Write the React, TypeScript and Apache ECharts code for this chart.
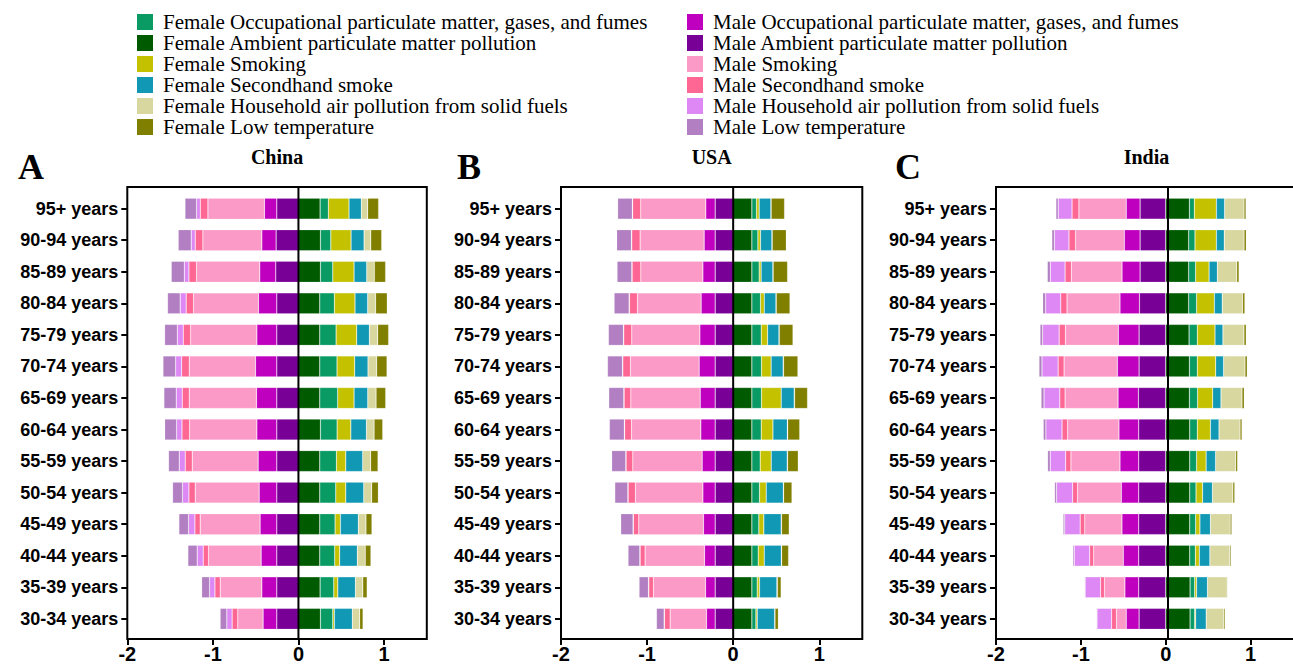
import React, { useEffect, useRef } from 'react';
import * as echarts from 'echarts';

// ---------- categories ----------
const ageGroups = [
  '95+ years', '90-94 years', '85-89 years', '80-84 years', '75-79 years', '70-74 years', '65-69 years',
  '60-64 years', '55-59 years', '50-54 years', '45-49 years', '40-44 years', '35-39 years', '30-34 years',
];
const riskNames = [
  'Occupational particulate matter, gases, and fumes',
  'Ambient particulate matter pollution',
  'Smoking',
  'Secondhand smoke',
  'Household air pollution from solid fuels',
  'Low temperature',
];
// stacking order from the zero line outwards (indices into riskNames)
const stackOrder = [1, 0, 2, 3, 4, 5];
const femaleColors = ['#0a9a64', '#005a00', '#c4c200', '#1198b5', '#d8d79f', '#817f00'];
const maleColors = ['#c000bf', '#790096', '#fb99c7', '#fe6694', '#dd88f4', '#b17fc2'];
const countries = ['China', 'USA', 'India'];
const panelLetters = ['A', 'B', 'C'];

// ---------- China (values per age group, top to bottom) ----------
const cnFemaleOcc = [0.097, 0.121, 0.144, 0.171, 0.191, 0.202, 0.210, 0.195, 0.195, 0.187, 0.179, 0.175, 0.160, 0.144];
const cnFemaleAmb = [0.253, 0.257, 0.257, 0.249, 0.249, 0.249, 0.249, 0.257, 0.249, 0.249, 0.249, 0.249, 0.253, 0.257];
const cnFemaleSmk = [0.241, 0.237, 0.249, 0.241, 0.241, 0.206, 0.191, 0.160, 0.109, 0.117, 0.062, 0.058, 0.047, 0.019];
const cnFemaleShs = [0.144, 0.152, 0.148, 0.148, 0.148, 0.156, 0.160, 0.183, 0.198, 0.210, 0.210, 0.206, 0.206, 0.210];
const cnFemaleHap = [0.074, 0.078, 0.089, 0.093, 0.097, 0.101, 0.097, 0.089, 0.093, 0.093, 0.089, 0.093, 0.086, 0.086];
const cnFemaleLt = [0.128, 0.128, 0.132, 0.136, 0.128, 0.121, 0.113, 0.101, 0.086, 0.078, 0.070, 0.066, 0.051, 0.039];
const cnMaleOcc = [0.144, 0.167, 0.187, 0.214, 0.233, 0.249, 0.237, 0.233, 0.218, 0.206, 0.195, 0.183, 0.175, 0.160];
const cnMaleAmb = [0.253, 0.261, 0.265, 0.253, 0.253, 0.253, 0.253, 0.253, 0.253, 0.253, 0.253, 0.253, 0.253, 0.253];
const cnMaleSmk = [0.661, 0.689, 0.739, 0.759, 0.774, 0.774, 0.786, 0.786, 0.770, 0.747, 0.700, 0.615, 0.486, 0.296];
const cnMaleShs = [0.089, 0.089, 0.089, 0.086, 0.086, 0.089, 0.082, 0.089, 0.082, 0.074, 0.062, 0.062, 0.062, 0.066];
const cnMaleHap = [0.043, 0.047, 0.054, 0.070, 0.070, 0.070, 0.070, 0.062, 0.070, 0.074, 0.074, 0.070, 0.062, 0.062];
const cnMaleLt = [0.136, 0.152, 0.152, 0.148, 0.148, 0.148, 0.144, 0.140, 0.125, 0.117, 0.113, 0.109, 0.093, 0.078];

// ---------- USA ----------
const usFemaleOcc = [0.054, 0.070, 0.085, 0.101, 0.109, 0.112, 0.112, 0.109, 0.097, 0.089, 0.081, 0.074, 0.062, 0.047];
const usFemaleAmb = [0.217, 0.217, 0.217, 0.217, 0.217, 0.217, 0.217, 0.217, 0.217, 0.217, 0.217, 0.217, 0.217, 0.217];
const usFemaleSmk = [0.031, 0.031, 0.023, 0.043, 0.074, 0.112, 0.229, 0.136, 0.128, 0.078, 0.058, 0.070, 0.027, 0.016];
const usFemaleShs = [0.136, 0.132, 0.136, 0.136, 0.132, 0.140, 0.151, 0.167, 0.186, 0.198, 0.202, 0.198, 0.202, 0.202];
const usFemaleHap = [0.004, 0.004, 0.004, 0.004, 0.004, 0.004, 0.004, 0.004, 0.004, 0.004, 0.004, 0.004, 0.006, 0.004];
const usFemaleLt = [0.155, 0.163, 0.167, 0.159, 0.159, 0.167, 0.151, 0.140, 0.124, 0.097, 0.089, 0.081, 0.043, 0.039];
const usMaleOcc = [0.109, 0.128, 0.143, 0.163, 0.178, 0.186, 0.174, 0.167, 0.151, 0.143, 0.136, 0.124, 0.112, 0.101];
const usMaleAmb = [0.209, 0.209, 0.209, 0.209, 0.209, 0.209, 0.209, 0.209, 0.209, 0.209, 0.209, 0.209, 0.209, 0.209];
const usMaleSmk = [0.756, 0.744, 0.721, 0.740, 0.791, 0.798, 0.806, 0.806, 0.806, 0.783, 0.752, 0.690, 0.605, 0.422];
const usMaleShs = [0.093, 0.097, 0.101, 0.093, 0.093, 0.089, 0.078, 0.078, 0.078, 0.085, 0.062, 0.058, 0.054, 0.066];
const usMaleHap = [0.004, 0.004, 0.004, 0.004, 0.004, 0.004, 0.004, 0.004, 0.004, 0.004, 0.004, 0.004, 0.004, 0.004];
const usMaleLt = [0.171, 0.171, 0.171, 0.174, 0.174, 0.174, 0.174, 0.174, 0.163, 0.151, 0.143, 0.136, 0.109, 0.089];

// ---------- India ----------
const inFemaleOcc = [0.058, 0.074, 0.081, 0.093, 0.097, 0.093, 0.097, 0.089, 0.081, 0.074, 0.070, 0.066, 0.054, 0.054];
const inFemaleAmb = [0.279, 0.271, 0.271, 0.271, 0.275, 0.279, 0.279, 0.283, 0.283, 0.283, 0.283, 0.283, 0.287, 0.287];
const inFemaleSmk = [0.260, 0.252, 0.159, 0.209, 0.209, 0.217, 0.178, 0.155, 0.112, 0.078, 0.050, 0.047, 0.023, 0.012];
const inFemaleShs = [0.097, 0.093, 0.097, 0.093, 0.093, 0.093, 0.097, 0.101, 0.112, 0.116, 0.124, 0.124, 0.128, 0.124];
const inFemaleHap = [0.229, 0.233, 0.229, 0.240, 0.248, 0.252, 0.248, 0.248, 0.236, 0.240, 0.233, 0.233, 0.233, 0.209];
const inFemaleLt = [0.023, 0.027, 0.027, 0.027, 0.027, 0.027, 0.027, 0.023, 0.023, 0.023, 0.019, 0.016, 0.008, 0.016];
const inMaleOcc = [0.163, 0.186, 0.213, 0.229, 0.244, 0.256, 0.240, 0.233, 0.221, 0.205, 0.198, 0.182, 0.163, 0.151];
const inMaleAmb = [0.302, 0.302, 0.302, 0.310, 0.314, 0.314, 0.322, 0.318, 0.318, 0.318, 0.318, 0.318, 0.318, 0.314];
const inMaleSmk = [0.558, 0.574, 0.597, 0.624, 0.624, 0.628, 0.624, 0.605, 0.578, 0.516, 0.438, 0.349, 0.240, 0.116];
const inMaleShs = [0.081, 0.078, 0.074, 0.074, 0.074, 0.070, 0.062, 0.066, 0.062, 0.058, 0.054, 0.047, 0.047, 0.058];
const inMaleHap = [0.163, 0.171, 0.174, 0.178, 0.194, 0.190, 0.186, 0.190, 0.182, 0.190, 0.182, 0.182, 0.182, 0.171];
const inMaleLt = [0.027, 0.031, 0.035, 0.035, 0.031, 0.035, 0.035, 0.031, 0.031, 0.023, 0.019, 0.016, 0.008, 0.008];

const femaleData = [
  [cnFemaleOcc, cnFemaleAmb, cnFemaleSmk, cnFemaleShs, cnFemaleHap, cnFemaleLt],
  [usFemaleOcc, usFemaleAmb, usFemaleSmk, usFemaleShs, usFemaleHap, usFemaleLt],
  [inFemaleOcc, inFemaleAmb, inFemaleSmk, inFemaleShs, inFemaleHap, inFemaleLt],
];
const maleData = [
  [cnMaleOcc, cnMaleAmb, cnMaleSmk, cnMaleShs, cnMaleHap, cnMaleLt],
  [usMaleOcc, usMaleAmb, usMaleSmk, usMaleShs, usMaleHap, usMaleLt],
  [inMaleOcc, inMaleAmb, inMaleSmk, inMaleShs, inMaleHap, inMaleLt],
];

// ---------- layout ----------
const X_MIN = -2;
const X_MAX = 1.5;
const gridLefts = [127.3, 561, 996];
const gridWidths = [299.5, 301.3, 301];
const frameTop = 187;
const frameBottom = 639;
const gridTop = 192.9;
const gridHeight = 441.7;
const letterX = [18, 457, 895];

export default function App() {
  const ref = useRef<HTMLDivElement>(null);

  useEffect(() => {
    if (!ref.current) return;
    const chart = echarts.init(ref.current, undefined, { renderer: 'svg' });

    const grids: any[] = [];
    const xAxes: any[] = [];
    const yAxes: any[] = [];
    const series: any[] = [];
    const graphics: any[] = [];

    const barStyle = (color: string) => ({
      color,
      borderColor: 'rgba(255,255,255,0.3)',
      borderWidth: 0.6,
    });

    countries.forEach((country, i) => {
      grids.push({ left: gridLefts[i], top: gridTop, width: gridWidths[i], height: gridHeight, containLabel: false });
      xAxes.push({
        type: 'value',
        gridIndex: i,
        min: X_MIN,
        max: X_MAX,
        interval: 1,
        offset: frameBottom - (gridTop + gridHeight),
        axisLine: { show: false },
        axisTick: { show: true, length: 6, lineStyle: { color: '#000', width: 2 } },
        axisLabel: {
          fontFamily: 'Liberation Sans',
          fontWeight: 'bold',
          fontSize: 20,
          color: '#000',
          margin: 5,
          showMaxLabel: false,
        },
        splitLine: { show: false },
      });
      yAxes.push({
        type: 'category',
        gridIndex: i,
        data: ageGroups,
        inverse: true,
        axisLine: { show: false, onZero: false },
        axisTick: { show: true, alignWithLabel: true, length: 6, lineStyle: { color: '#000', width: 2 } },
        axisLabel: {
          fontFamily: 'Liberation Sans',
          fontWeight: 'bold',
          fontSize: 18,
          color: '#000',
          margin: 9,
        },
        splitLine: { show: false },
      });

      // one stack per panel: positive (female) and negative (male) values stack separately
      stackOrder.forEach((k) => {
        series.push({
          type: 'bar',
          name: 'Female ' + riskNames[k],
          xAxisIndex: i,
          yAxisIndex: i,
          stack: 'panel' + i,
          barWidth: 21,
          data: femaleData[i][k],
          itemStyle: barStyle(femaleColors[k]),
          emphasis: { disabled: true },
        });
      });
      stackOrder.forEach((k) => {
        series.push({
          type: 'bar',
          name: 'Male ' + riskNames[k],
          xAxisIndex: i,
          yAxisIndex: i,
          stack: 'panel' + i,
          barWidth: 21,
          data: maleData[i][k].map((v) => -v),
          itemStyle: barStyle(maleColors[k]),
          emphasis: { disabled: true },
        });
      });

      const zeroX = gridLefts[i] + ((0 - X_MIN) / (X_MAX - X_MIN)) * gridWidths[i];
      graphics.push({
        type: 'rect',
        z: 100,
        shape: { x: gridLefts[i], y: frameTop, width: gridWidths[i], height: frameBottom - frameTop },
        style: { fill: 'none', stroke: '#000', lineWidth: 2 },
      });
      graphics.push({
        type: 'line',
        z: 100,
        shape: { x1: zeroX, y1: frameTop, x2: zeroX, y2: frameBottom },
        style: { stroke: '#000', lineWidth: 2 },
      });
      graphics.push({
        type: 'text',
        z: 100,
        x: gridLefts[i] + gridWidths[i] / 2,
        y: 157,
        style: {
          text: country,
          font: 'bold 20px "Liberation Serif"',
          fill: '#000',
          align: 'center',
          verticalAlign: 'middle',
        },
      });
      graphics.push({
        type: 'text',
        z: 100,
        x: letterX[i],
        y: 167,
        style: {
          text: panelLetters[i],
          font: 'bold 36px "Liberation Serif"',
          fill: '#000',
          align: 'left',
          verticalAlign: 'middle',
        },
      });
    });

    const legendBase = {
      orient: 'vertical',
      top: 11.5,
      itemWidth: 16,
      itemHeight: 16,
      itemGap: 0,
      icon: 'rect',
      padding: 0,
      selectedMode: false,
      itemStyle: { borderWidth: 0 },
      textStyle: {
        fontFamily: 'Liberation Serif',
        fontSize: 21,
        lineHeight: 21,
        color: '#000',
        padding: [0, 0, 0, 5],
      },
    };

    chart.setOption({
      animation: false,
      backgroundColor: '#fff',
      legend: [
        { ...legendBase, left: 137, data: riskNames.map((r) => 'Female ' + r) },
        { ...legendBase, left: 687, data: riskNames.map((r) => 'Male ' + r) },
      ],
      grid: grids,
      xAxis: xAxes,
      yAxis: yAxes,
      series,
      graphic: graphics,
    });

    return () => chart.dispose();
  }, []);

  return (
    <div
      ref={ref}
      style={{ position: 'fixed', left: 0, top: 0, width: 1293, height: 667, background: '#fff' }}
    />
  );
}
